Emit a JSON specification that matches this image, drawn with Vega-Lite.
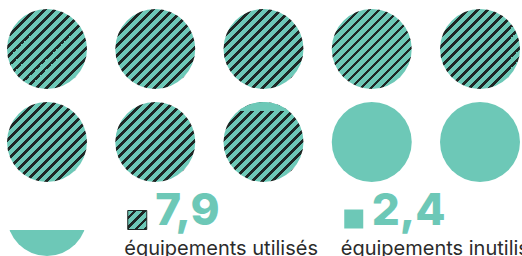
{
  "$schema": "https://vega.github.io/schema/vega-lite/v6.json",
  "width": 522,
  "height": 256,
  "padding": 0,
  "autosize": {"type": "fit", "contains": "padding"},
  "background": "white",
  "config": {"view": {"stroke": null}},
  "datasets": {
    "circles": [
      {"n": 1, "used": 1, "unused": 0},
      {"n": 2, "used": 1, "unused": 0},
      {"n": 3, "used": 1, "unused": 0},
      {"n": 4, "used": 1, "unused": 0},
      {"n": 5, "used": 1, "unused": 0},
      {"n": 6, "used": 1, "unused": 0},
      {"n": 7, "used": 1, "unused": 0},
      {"n": 8, "used": 0.9, "unused": 0.1},
      {"n": 9, "used": 0, "unused": 1},
      {"n": 10, "used": 0, "unused": 1},
      {"n": 11, "used": 0, "unused": 0.3}
    ],
    "legend": [
      {"i": 0, "status": "utilisés", "value": 7.9, "label": "équipements utilisés"},
      {"i": 1, "status": "inutilisés", "value": 2.4, "label": "équipements inutilisés"}
    ]
  },
  "layer": [
    {
      "data": {"name": "circles"},
      "transform": [
        {"calculate": "(datum.n - 1) % 5", "as": "col"},
        {"calculate": "floor((datum.n - 1) / 5)", "as": "row"},
        {"filter": "datum.used > 0"}
      ],
      "mark": {"type": "point", "shape": "circle", "size": 6400, "filled": true, "opacity": 1, "strokeWidth": 0,
        "fill": {"gradient": "linear", "x1": 0, "y1": 0, "x2": 1, "y2": 1, "stops": [
          {"offset": 0, "color": "#6DC8B7"}, {"offset": 0.04, "color": "#6DC8B7"}, {"offset": 0.04, "color": "#1E2725"}, {"offset": 0.0625, "color": "#1E2725"},
          {"offset": 0.0625, "color": "#6DC8B7"}, {"offset": 0.1025, "color": "#6DC8B7"}, {"offset": 0.1025, "color": "#1E2725"}, {"offset": 0.125, "color": "#1E2725"},
          {"offset": 0.125, "color": "#6DC8B7"}, {"offset": 0.165, "color": "#6DC8B7"}, {"offset": 0.165, "color": "#1E2725"}, {"offset": 0.1875, "color": "#1E2725"},
          {"offset": 0.1875, "color": "#6DC8B7"}, {"offset": 0.2275, "color": "#6DC8B7"}, {"offset": 0.2275, "color": "#1E2725"}, {"offset": 0.25, "color": "#1E2725"},
          {"offset": 0.25, "color": "#6DC8B7"}, {"offset": 0.29, "color": "#6DC8B7"}, {"offset": 0.29, "color": "#1E2725"}, {"offset": 0.3125, "color": "#1E2725"},
          {"offset": 0.3125, "color": "#6DC8B7"}, {"offset": 0.3525, "color": "#6DC8B7"}, {"offset": 0.3525, "color": "#1E2725"}, {"offset": 0.375, "color": "#1E2725"},
          {"offset": 0.375, "color": "#6DC8B7"}, {"offset": 0.415, "color": "#6DC8B7"}, {"offset": 0.415, "color": "#1E2725"}, {"offset": 0.4375, "color": "#1E2725"},
          {"offset": 0.4375, "color": "#6DC8B7"}, {"offset": 0.4775, "color": "#6DC8B7"}, {"offset": 0.4775, "color": "#1E2725"}, {"offset": 0.5, "color": "#1E2725"},
          {"offset": 0.5, "color": "#6DC8B7"}, {"offset": 0.54, "color": "#6DC8B7"}, {"offset": 0.54, "color": "#1E2725"}, {"offset": 0.5625, "color": "#1E2725"},
          {"offset": 0.5625, "color": "#6DC8B7"}, {"offset": 0.6025, "color": "#6DC8B7"}, {"offset": 0.6025, "color": "#1E2725"}, {"offset": 0.625, "color": "#1E2725"},
          {"offset": 0.625, "color": "#6DC8B7"}, {"offset": 0.665, "color": "#6DC8B7"}, {"offset": 0.665, "color": "#1E2725"}, {"offset": 0.6875, "color": "#1E2725"},
          {"offset": 0.6875, "color": "#6DC8B7"}, {"offset": 0.7275, "color": "#6DC8B7"}, {"offset": 0.7275, "color": "#1E2725"}, {"offset": 0.75, "color": "#1E2725"},
          {"offset": 0.75, "color": "#6DC8B7"}, {"offset": 0.79, "color": "#6DC8B7"}, {"offset": 0.79, "color": "#1E2725"}, {"offset": 0.8125, "color": "#1E2725"},
          {"offset": 0.8125, "color": "#6DC8B7"}, {"offset": 0.8525, "color": "#6DC8B7"}, {"offset": 0.8525, "color": "#1E2725"}, {"offset": 0.875, "color": "#1E2725"},
          {"offset": 0.875, "color": "#6DC8B7"}, {"offset": 0.915, "color": "#6DC8B7"}, {"offset": 0.915, "color": "#1E2725"}, {"offset": 0.9375, "color": "#1E2725"},
          {"offset": 0.9375, "color": "#6DC8B7"}, {"offset": 0.9775, "color": "#6DC8B7"}, {"offset": 0.9775, "color": "#1E2725"}, {"offset": 1, "color": "#1E2725"}
        ]}
      },
      "encoding": {
        "x": {"field": "col", "type": "quantitative", "axis": null, "scale": {"domain": [0, 4], "range": [47, 480]}},
        "y": {"field": "row", "type": "quantitative", "axis": null, "scale": {"domain": [0, 1, 2], "range": [49, 142, 216]}}
      }
    },
    {
      "data": {"name": "circles"},
      "transform": [
        {"calculate": "(datum.n - 1) % 5", "as": "col"},
        {"calculate": "floor((datum.n - 1) / 5)", "as": "row"},
        {"filter": "datum.used > 0 && datum.unused > 0"}
      ],
      "mark": {"type": "point", "shape": "circle", "size": 6400, "filled": true, "opacity": 1, "strokeWidth": 0,
        "fill": {"gradient": "linear", "x1": 0, "y1": 0, "x2": 0, "y2": 1, "stops": [
          {"offset": 0, "color": "#6DC8B7"}, {"offset": 0.11, "color": "#6DC8B7"},
          {"offset": 0.11, "color": "rgba(109,200,183,0)"}, {"offset": 1, "color": "rgba(109,200,183,0)"}
        ]}
      },
      "encoding": {
        "x": {"field": "col", "type": "quantitative"},
        "y": {"field": "row", "type": "quantitative"}
      }
    },
    {
      "data": {"name": "circles"},
      "transform": [
        {"calculate": "(datum.n - 1) % 5", "as": "col"},
        {"calculate": "floor((datum.n - 1) / 5)", "as": "row"},
        {"filter": "datum.used == 0 && datum.unused == 1"}
      ],
      "mark": {"type": "point", "shape": "circle", "size": 6400, "filled": true, "opacity": 1, "strokeWidth": 0, "fill": "#6DC8B7"},
      "encoding": {
        "x": {"field": "col", "type": "quantitative"},
        "y": {"field": "row", "type": "quantitative"}
      }
    },
    {
      "data": {"name": "circles"},
      "transform": [
        {"calculate": "(datum.n - 1) % 5", "as": "col"},
        {"calculate": "floor((datum.n - 1) / 5)", "as": "row"},
        {"filter": "datum.used == 0 && datum.unused < 1"}
      ],
      "mark": {"type": "point", "shape": "circle", "size": 6400, "filled": true, "opacity": 1, "strokeWidth": 0,
        "fill": {"gradient": "linear", "x1": 0, "y1": 0, "x2": 0, "y2": 1, "stops": [
          {"offset": 0, "color": "rgba(109,200,183,0)"}, {"offset": 0.67, "color": "rgba(109,200,183,0)"},
          {"offset": 0.67, "color": "#6DC8B7"}, {"offset": 1, "color": "#6DC8B7"}
        ]}
      },
      "encoding": {
        "x": {"field": "col", "type": "quantitative"},
        "y": {"field": "row", "type": "quantitative"}
      }
    },
    {
      "data": {"name": "legend"},
      "transform": [
        {"calculate": "1 + 2 * datum.i", "as": "col"},
        {"calculate": "2", "as": "row"},
        {"filter": "datum.status == 'utilisés'"}
      ],
      "mark": {"type": "point", "shape": "square", "size": 361, "filled": true, "opacity": 1, "xOffset": -18, "yOffset": 4,
        "stroke": "#1E2725", "strokeWidth": 1,
        "fill": {"gradient": "linear", "x1": 0, "y1": 0, "x2": 1, "y2": 1, "stops": [
          {"offset": 0, "color": "#6DC8B7"}, {"offset": 0.16, "color": "#6DC8B7"}, {"offset": 0.16, "color": "#1E2725"}, {"offset": 0.25, "color": "#1E2725"},
          {"offset": 0.25, "color": "#6DC8B7"}, {"offset": 0.41, "color": "#6DC8B7"}, {"offset": 0.41, "color": "#1E2725"}, {"offset": 0.5, "color": "#1E2725"},
          {"offset": 0.5, "color": "#6DC8B7"}, {"offset": 0.66, "color": "#6DC8B7"}, {"offset": 0.66, "color": "#1E2725"}, {"offset": 0.75, "color": "#1E2725"},
          {"offset": 0.75, "color": "#6DC8B7"}, {"offset": 0.91, "color": "#6DC8B7"}, {"offset": 0.91, "color": "#1E2725"}, {"offset": 1, "color": "#1E2725"}
        ]}
      },
      "encoding": {
        "x": {"field": "col", "type": "quantitative"},
        "y": {"field": "row", "type": "quantitative"}
      }
    },
    {
      "data": {"name": "legend"},
      "transform": [
        {"calculate": "1 + 2 * datum.i", "as": "col"},
        {"calculate": "2", "as": "row"},
        {"filter": "datum.status == 'inutilisés'"}
      ],
      "mark": {"type": "point", "shape": "square", "size": 361, "filled": true, "opacity": 1, "xOffset": -18, "yOffset": 3, "strokeWidth": 0, "fill": "#6DC8B7"},
      "encoding": {
        "x": {"field": "col", "type": "quantitative"},
        "y": {"field": "row", "type": "quantitative"}
      }
    },
    {
      "data": {"name": "legend"},
      "transform": [
        {"calculate": "1 + 2 * datum.i", "as": "col"},
        {"calculate": "2", "as": "row"},
        {"calculate": "replace(format(datum.value, '.1f'), '.', ',')", "as": "txt"}
      ],
      "mark": {"type": "text", "align": "left", "baseline": "alphabetic", "dx": 0, "dy": 9, "font": "Inter", "fontSize": 44, "fontWeight": 800, "fill": "#6DC8B7"},
      "encoding": {
        "x": {"field": "col", "type": "quantitative"},
        "y": {"field": "row", "type": "quantitative"},
        "text": {"field": "txt"}
      }
    },
    {
      "data": {"name": "legend"},
      "transform": [
        {"calculate": "1 + 2 * datum.i", "as": "col"},
        {"calculate": "2", "as": "row"}
      ],
      "mark": {"type": "text", "align": "left", "baseline": "alphabetic", "dx": -31, "dy": 39, "font": "Inter", "fontSize": 20, "fontWeight": 400, "fill": "#2B2B2B"},
      "encoding": {
        "x": {"field": "col", "type": "quantitative"},
        "y": {"field": "row", "type": "quantitative"},
        "text": {"field": "label"}
      }
    }
  ]
}
